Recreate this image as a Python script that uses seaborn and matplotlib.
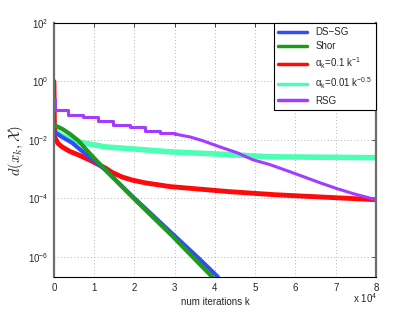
import numpy as np
import matplotlib
matplotlib.use("Agg")
import matplotlib.pyplot as plt
import seaborn as sns

# iterations k and log10 d(x_k, X)
ds_k = [0, 2000, 4500, 8000, 12700, 19600, 29300, 36300, 40700]
ds_log = [-1.72, -1.90, -2.10, -2.50, -3.02, -3.95, -5.20, -6.10, -6.69]

shor_k = [0, 2000, 4000, 6000, 9000, 12700, 19600, 29300, 36300, 39300]
shor_log = [-1.49, -1.62, -1.80, -2.02, -2.48, -3.02, -3.98, -5.28, -6.27, -6.69]

a1_k = [0, 150, 1000, 2000, 4000, 6000, 9000, 12700, 14500, 16900, 19500,
        22600, 28800, 43200, 55000, 80000]
a1_log = [0.0, -1.90, -2.12, -2.24, -2.40, -2.51, -2.70, -2.96, -3.12, -3.27,
          -3.38, -3.47, -3.60, -3.77, -3.88, -4.05]

a2_k = [0, 300, 1200, 2700, 6000, 12700, 22600, 28800, 41200, 53700, 80000]
a2_log = [-1.55, -1.66, -1.80, -1.90, -2.07, -2.24, -2.34, -2.41, -2.49, -2.58, -2.61]

# RSG: staircase at start, then a slow decline
rsg_step_k = [0, 150, 3500, 7200, 10900, 14700, 18900, 22600, 26300, 30000]
rsg_step_log = [-0.60, -0.98, -1.15, -1.22, -1.35, -1.49, -1.56, -1.69, -1.76, -1.80]
rsg_k = [30000, 33800, 37000, 41200, 45500, 49400, 53700, 59400, 66100, 70300, 74300, 80000]
rsg_log = [-1.80, -1.90, -2.03, -2.24, -2.44, -2.68, -2.85, -3.13, -3.47, -3.67, -3.84, -4.05]

labels = ["DS\u2212SG", "Shor",
          r"$\mathdefault{\alpha_k}$=0.1 k$^{\mathdefault{-1}}$",
          r"$\mathdefault{\alpha_k}$=0.01 k$^{\mathdefault{-0.5}}$",
          "RSG"]
colors = ["#2f4ff5", "#1f9a1f", "#ff0a0a", "#4dffb4", "#a43cff"]
x_ticks = [0, 10000, 20000, 30000, 40000, 50000, 60000, 70000, 80000]

sns.set_style("white")
plt.rcParams["font.family"] = ["Liberation Sans", "DejaVu Sans"]
plt.rcParams["mathtext.fontset"] = "custom"
plt.rcParams["mathtext.rm"] = "Liberation Sans"
plt.rcParams["mathtext.it"] = "Liberation Sans:italic"

fig = plt.figure(figsize=(4.15, 3.12), dpi=100)
ax = fig.add_axes([0.130, 0.112, 0.776, 0.814])

def p(v):
    return 10 ** np.array(v)

sns.lineplot(x=a2_k, y=p(a2_log), ax=ax, color=colors[3], lw=4.0, label=labels[3])
sns.lineplot(x=a1_k, y=p(a1_log), ax=ax, color=colors[2], lw=3.5, label=labels[2])
sns.lineplot(x=ds_k, y=p(ds_log), ax=ax, color=colors[0], lw=3.0, label=labels[0])
sns.lineplot(x=shor_k, y=p(shor_log), ax=ax, color=colors[1], lw=3.0, label=labels[1])
sns.lineplot(x=rsg_step_k, y=p(rsg_step_log), ax=ax, color=colors[4], lw=2.2,
             drawstyle="steps-post", label=labels[4])
sns.lineplot(x=rsg_k, y=p(rsg_log), ax=ax, color=colors[4], lw=2.2)

ax.set_yscale("log")
ax.set_xlim(0, 80000)
ax.set_ylim(2e-7, 1e2)
ax.set_yticks([1e2, 1e0, 1e-2, 1e-4, 1e-6])
ax.minorticks_off()
ax.set_xticks(x_ticks)
ax.set_xticklabels([str(t // 10000) for t in x_ticks])
ax.tick_params(direction="in", top=True, right=True, labelsize=7, length=3,
               width=0.6, pad=4)
ax.grid(True, linestyle=(0, (1, 3)), color="#999999", lw=0.6)
for s in ["top", "bottom"]:
    ax.spines[s].set_color("black")
    ax.spines[s].set_linewidth(0.8)
for s in ["left", "right"]:
    ax.spines[s].set_color("#6e6e6e")
    ax.spines[s].set_linewidth(1.6)

ax.set_xlabel("num iterations k", fontsize=7, labelpad=3)
ax.set_ylabel(r"$d(x_k, \mathcal{X})$", fontsize=10.5, math_fontfamily="cm", labelpad=1)
fig.text(0.88, 0.028, r"x 10$^{\mathdefault{4}}$", fontsize=7, ha="center")

h, l = ax.get_legend_handles_labels()
order = [labels.index(t) for t in l]
pairs = sorted(zip(order, h, l))
leg = ax.legend([q[1] for q in pairs], [q[2] for q in pairs], loc="upper right",
                fontsize=7, frameon=True, fancybox=False, edgecolor="black",
                framealpha=1, borderaxespad=0, handlelength=3.0,
                labelspacing=0.45, borderpad=0.4)
leg.get_frame().set_linewidth(0.8)
for line in leg.get_lines():
    line.set_linewidth(2.5)

fig.savefig("out.png", dpi=100)
